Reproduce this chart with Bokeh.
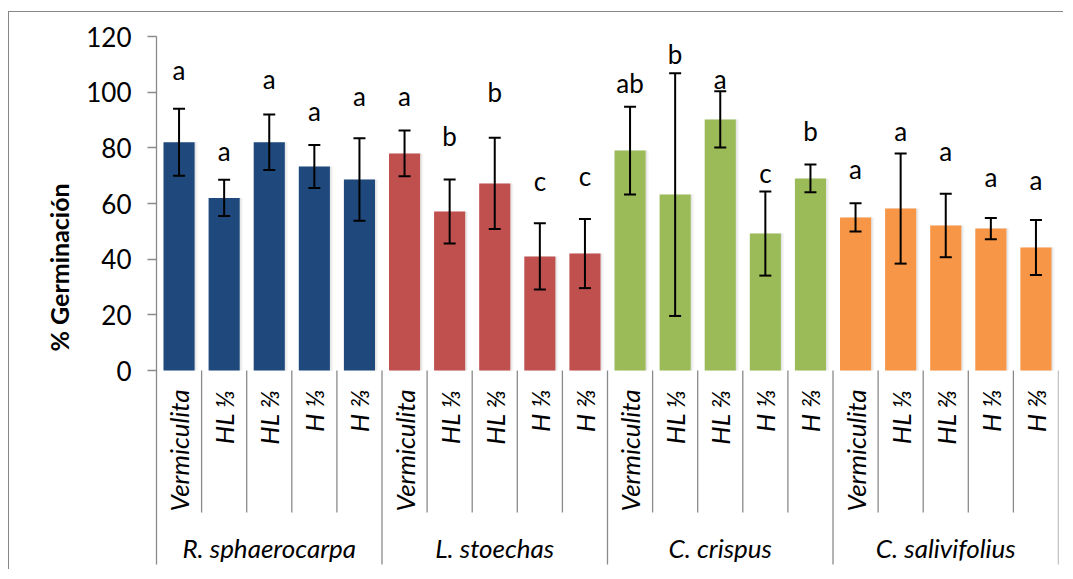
import math
from bokeh.plotting import figure
from bokeh.models import (ColumnDataSource, FixedTicker, Range1d, Whisker, TeeHead,
                          LinearAxis, Title)
from bokeh.core.properties import value
from bokeh.transform import dodge
from bokeh.embed import file_html
from bokeh.resources import INLINE

# ---------------- data ----------------
species = ["R. sphaerocarpa", "L. stoechas", "C. crispus", "C. salivifolius"]
treatments = ["Vermiculita", "HL \u2153", "HL \u2154", "H \u2153", "H \u2154"]
colors = ["#1F497D", "#C0504D", "#9BBB59", "#F79646"]

rs_mean = [82, 62, 82, 73.3, 68.6]
rs_err = [12, 6.5, 10, 7.7, 14.8]
rs_letters = ["a", "a", "a", "a", "a"]
rs_letter_y = [107.9, 78.8, 104.9, 93.4, 98.5]

ls_mean = [78, 57.1, 67.2, 41, 42]
ls_err = [8.2, 11.5, 16.4, 11.9, 12.4]
ls_letters = ["a", "b", "b", "c", "c"]
ls_letter_y = [98.8, 84.4, 100, 68, 69.8]

cc_mean = [79, 63.2, 90.2, 49.2, 69]
cc_err = [15.8, 43.6, 10.1, 15.1, 5]
cc_letters = ["ab", "b", "a", "c", "b"]
cc_letter_y = [103.4, 113.8, 104.6, 70.8, 86]

cs_mean = [55, 58.2, 52.1, 51, 44.2]
cs_err = [5.1, 19.8, 11.4, 3.8, 9.9]
cs_letters = ["a", "a", "a", "a", "a"]
cs_letter_y = [72.5, 86, 78.8, 69.6, 68.3]

y_ticks = [0, 20, 40, 60, 80, 100, 120]

# ---------------- build table ----------------
means = [rs_mean, ls_mean, cc_mean, cs_mean]
errs = [rs_err, ls_err, cc_err, cs_err]
letters = [rs_letters, ls_letters, cc_letters, cs_letters]
letter_ys = [rs_letter_y, ls_letter_y, cc_letter_y, cs_letter_y]

xs, tops, lo, hi, cols, labs, labys, cats = [], [], [], [], [], [], [], []
n_t = len(treatments)
for g in range(len(species)):
    for t in range(n_t):
        xs.append(g * n_t + t + 0.5)
        m, e = means[g][t], errs[g][t]
        tops.append(m)
        lo.append(m - e)
        hi.append(m + e)
        cols.append(colors[g])
        labs.append(letters[g][t])
        labys.append(letter_ys[g][t])
        cats.append(treatments[t])

src = ColumnDataSource(dict(x=xs, top=tops, lower=lo, upper=hi, color=cols,
                            letter=labs, letter_y=labys, cat=cats))

n = len(xs)
Y0 = -69.7
GRAY = "#8a8a8a"
FONT = "Lato"
FS = "26px"

p = figure(width=1055, height=558, output_backend="svg", toolbar_location=None,
           x_range=Range1d(0, n), y_range=Range1d(Y0, 120),
           x_axis_type=None, y_axis_type=None,
           min_border_left=147, min_border_top=24, min_border_right=6,
           min_border_bottom=6)
p.outline_line_color = None
p.background_fill_color = "white"
p.border_fill_color = "white"
p.styles = {"margin-left": "8px", "margin-top": "11px",
            "border-top": "1px solid #878787", "border-left": "1px solid #878787"}

yaxis = LinearAxis(ticker=FixedTicker(ticks=y_ticks))
yaxis.axis_line_color = GRAY
yaxis.axis_line_width = 1.3
yaxis.major_tick_line_color = GRAY
yaxis.major_tick_line_width = 1.3
yaxis.major_tick_in = 0
yaxis.major_tick_out = 9
yaxis.minor_tick_line_color = None
yaxis.major_label_standoff = 16
yaxis.major_label_text_font = FONT
yaxis.major_label_text_font_size = FS
yaxis.major_label_text_color = "black"
p.add_layout(yaxis, "left")

# y axis title as a side title, placed along the left panel
ytitle = Title(text="% Germinación", align="left", offset=213, standoff=18,
               vertical_align="middle", text_font=FONT, text_font_style="bold",
               text_font_size="25px", text_color="black")
p.add_layout(ytitle, "left")

p.ygrid.ticker = FixedTicker(ticks=y_ticks)
p.ygrid.grid_line_color = GRAY
p.ygrid.grid_line_width = 1.3
p.xgrid.visible = False

# separators below the axis
inner = [i for i in range(1, n) if i % n_t != 0]
groups = [i for i in range(n_t, n + 1, n_t)]
p.segment(x0=inner, y0=[0] * len(inner), x1=inner, y1=[-51] * len(inner),
          line_color=GRAY, line_width=1.3)
p.segment(x0=groups, y0=[0] * len(groups), x1=groups, y1=[Y0 - 5] * len(groups),
          line_color=GRAY, line_width=1.3)

# soft bar shadows
p.vbar(x=dodge("x", 0.07, range=p.x_range), top="top", bottom=0, width=0.69,
       fill_color="black", fill_alpha=0.04, line_color=None, source=src)
p.vbar(x=dodge("x", 0.035, range=p.x_range), top="top", bottom=0, width=0.69,
       fill_color="black", fill_alpha=0.06, line_color=None, source=src)

# bars
p.vbar(x="x", top="top", bottom=0, width=0.69, fill_color="color",
       line_color=None, source=src)

# error bars
wh = Whisker(base="x", lower="lower", upper="upper", source=src,
             line_color="black", line_width=2, level="overlay",
             upper_head=TeeHead(size=12, line_color="black", line_width=2),
             lower_head=TeeHead(size=12, line_color="black", line_width=2))
p.add_layout(wh)

# significance letters
p.text(x="x", y="letter_y", text="letter", source=src, text_align="center",
       text_baseline="middle", text_font=value(FONT), text_font_size=FS,
       text_color="black")

# treatment labels (rotated)
p.text(x="x", y=-6.8, text="cat", source=src, angle=math.pi / 2,
       text_align="right", text_baseline="middle", text_font=value(FONT),
       text_font_style="italic", text_font_size=FS, text_color="black")

# species labels
gx = [g * n_t + n_t / 2 for g in range(len(species))]
p.text(x=gx, y=[-63.6] * len(gx), text=species, text_align="center",
       text_baseline="middle", text_font=value(FONT), text_font_style="italic",
       text_font_size=FS, text_color="black")

open("out.html", "w").write(file_html(p, INLINE))
